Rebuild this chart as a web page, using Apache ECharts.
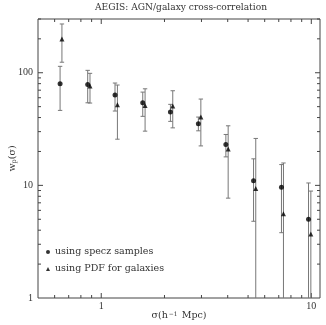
<!DOCTYPE html>
<html>
<head>
<meta charset="utf-8">
<script src="https://cdn.jsdelivr.net/npm/echarts@6/dist/echarts.min.js"></script>
<style>
html, body { margin: 0; padding: 0; background: #fff; }
#main { width: 326px; height: 325px; }
</style>
</head>
<body>
<div id="main"></div>
<script>
/*specz samples (circles)*/
var specX = [0.637, 0.862, 1.163, 1.576, 2.135, 2.90, 3.92, 5.31, 7.21, 9.70];
var specW = [79.8, 78.5, 63.4, 54.1, 44.8, 35.2, 23.1, 11.0, 9.6, 5.0];
var specLo = [46.3, 54.1, 45.7, 41.0, 37.0, 30.5, 17.9, 4.8, 3.8, 0];
var specHi = [114, 105, 81, 67.3, 52.4, 40.4, 28.3, 17.2, 15.3, 10.5];

/*PDF for galaxies (triangles)  -- lo 0 = bar runs off the bottom of the plot*/
var pdfX = [0.65, 0.884, 1.194, 1.617, 2.19, 2.98, 4.02, 5.44, 7.37, 9.95];
var pdfW = [199.5, 76.2, 52, 51.3, 50.6, 40.4, 21.0, 9.4, 5.6, 3.7];
var pdfLo = [124, 53.8, 25.7, 30.3, 32.4, 22.4, 7.7, 0, 0, 0];
var pdfHi = [271, 98.8, 77.8, 72, 69.2, 58.4, 33.8, 26.1, 15.8, 8.9];

/*axis ticks and labels*/
var xTicks = [0.6, 0.7, 0.8, 0.9, 1, 2, 3, 4, 5, 6, 7, 8, 9, 10];
var yTicks = [2, 3, 4, 5, 6, 7, 8, 9, 10, 20, 30, 40, 50, 60, 70, 80, 90, 100, 200, 300];
var xLabels = [1, 10];
var yLabels = [1, 10, 100];

var FONT = '"Liberation Serif", "DejaVu Serif", serif';
var WIDE = '"DejaVu Serif", serif';
var LINE = '#444';
var BAR = '#777';

function pickLabel(list){
	return function(v){
		for (var i = 0; i < list.length; i++) {
			if (Math.abs(v - list[i]) / list[i] < 1e-6) return String(list[i]);
		}
		return '';
	};
}

function isMajor(v){
	var l = Math.log(v) / Math.LN10;
	return Math.abs(l - Math.round(l)) < 1e-6;
}

/*error bars*/
function errData(xs, ys, lo, hi){
	var out = [];
	for (var i = 0; i < xs.length; i++) out.push([xs[i], ys[i], lo[i], hi[i]]);
	return out;
}

function renderErr(params, api){
	var cs = params.coordSys;
	var x = api.coord([api.value(0), api.value(1)])[0];
	var lo = api.value(2), hi = api.value(3);
	var yTop = api.coord([api.value(0), hi])[1];
	var yBot = lo > 0 ? api.coord([api.value(0), lo])[1] : cs.y + cs.height;
	var cap = 2.2;
	var st = { stroke: BAR, lineWidth: 1 };
	var kids = [
		{ type: 'line', shape: { x1: x, y1: yTop, x2: x, y2: yBot }, style: st },
		{ type: 'line', shape: { x1: x - cap, y1: yTop, x2: x + cap, y2: yTop }, style: st }
	];
	if (lo > 0) kids.push({ type: 'line', shape: { x1: x - cap, y1: yBot, x2: x + cap, y2: yBot }, style: st });
	return { type: 'group', children: kids };
}

/*ticks on all four sides, pointing in*/
function renderXTick(params, api){
	var cs = params.coordSys;
	var v = api.value(0);
	var x = api.coord([v, 1])[0];
	var len = isMajor(v) ? 5 : 3;
	var st = { stroke: LINE, lineWidth: 1 };
	return { type: 'group', children: [
		{ type: 'line', shape: { x1: x, y1: cs.y + cs.height, x2: x, y2: cs.y + cs.height - len }, style: st },
		{ type: 'line', shape: { x1: x, y1: cs.y, x2: x, y2: cs.y + len }, style: st }
	]};
}

function renderYTick(params, api){
	var cs = params.coordSys;
	var v = api.value(1);
	var y = api.coord([1, v])[1];
	var len = isMajor(v) ? 5 : 3;
	var st = { stroke: LINE, lineWidth: 1 };
	return { type: 'group', children: [
		{ type: 'line', shape: { x1: cs.x, y1: y, x2: cs.x + len, y2: y }, style: st },
		{ type: 'line', shape: { x1: cs.x + cs.width, y1: y, x2: cs.x + cs.width - len, y2: y }, style: st }
	]};
}

var option = {
	animation: false,
	backgroundColor: '#fff',
	textStyle: { fontFamily: FONT },
	title: {
		text: 'AEGIS: AGN/galaxy cross-correlation',
		left: 95,
		top: 3,
		padding: 0,
		textStyle: { fontFamily: WIDE, fontSize: 9.1, fontWeight: 'normal', color: '#333' }
	},
	legend: {
		data: [
			{ name: 'using specz samples', icon: 'circle' },
			{ name: 'using PDF for galaxies', icon: 'triangle' }
		],
		orient: 'vertical',
		left: 46,
		top: 246,
		padding: 0,
		itemWidth: 4,
		itemHeight: 4,
		itemGap: 5,
		itemTextGap: 0,
		textStyle: { fontFamily: WIDE, fontSize: 9.5, color: '#333', lineHeight: 12 }
	},
	grid: {
		left: 38, right: 6, top: 19, bottom: 27,
		outerBoundsMode: 'none',
		containLabel: false,
		show: true, borderColor: LINE, borderWidth: 1
	},
	xAxis: {
		type: 'log', logBase: 10, min: 0.5, max: 11,
		name: '{n|σ(h}{s|−1}{n| Mpc)}',
		nameLocation: 'middle', nameGap: 13, nameMoveOverlap: false,
		nameTextStyle: {
			rich: {
				n: { fontFamily: WIDE, fontSize: 9.5, color: '#333' },
				s: { fontFamily: WIDE, fontSize: 6, color: '#333', verticalAlign: 'top', padding: [0, 1, 4, 1] }
			}
		},
		axisLine: { show: false },
		axisTick: { show: false },
		splitLine: { show: false },
		axisLabel: { formatter: pickLabel(xLabels), margin: 3, fontFamily: FONT, fontSize: 10, color: '#333' }
	},
	yAxis: {
		type: 'log', logBase: 10, min: 1, max: 300,
		name: '{n|w}{s|p}{n|(σ)}',
		nameLocation: 'middle', nameGap: 20, nameRotate: 90, nameMoveOverlap: false,
		nameTextStyle: {
			rich: {
				n: { fontFamily: WIDE, fontSize: 9.5, color: '#333' },
				s: { fontFamily: WIDE, fontSize: 6.5, color: '#333', verticalAlign: 'bottom', padding: [4, 0, 0, 0] }
			}
		},
		axisLine: { show: false },
		axisTick: { show: false },
		splitLine: { show: false },
		axisLabel: { formatter: pickLabel(yLabels), margin: 5, fontFamily: FONT, fontSize: 10, color: '#333' }
	},
	series: [
		{
			type: 'custom', name: 'ticksX', silent: true, clip: false,
			renderItem: renderXTick,
			data: xTicks.map(function(v){ return [v, 1]; })
		},
		{
			type: 'custom', name: 'ticksY', silent: true, clip: false,
			renderItem: renderYTick,
			data: yTicks.map(function(v){ return [1, v]; })
		},
		{
			type: 'custom', name: 'errSpec', silent: true, clip: true,
			renderItem: renderErr,
			encode: { x: 0, y: 1 },
			data: errData(specX, specW, specLo, specHi)
		},
		{
			type: 'custom', name: 'errPdf', silent: true, clip: true,
			renderItem: renderErr,
			encode: { x: 0, y: 1 },
			data: errData(pdfX, pdfW, pdfLo, pdfHi)
		},
		{
			type: 'scatter', name: 'using specz samples',
			symbol: 'circle', symbolSize: 5,
			itemStyle: { color: '#000' },
			data: specX.map(function(x, i){ return [x, specW[i]]; })
		},
		{
			type: 'scatter', name: 'using PDF for galaxies',
			symbol: 'triangle', symbolSize: 5,
			itemStyle: { color: '#000' },
			data: pdfX.map(function(x, i){ return [x, pdfW[i]]; })
		}
	]
};

var myChart = echarts.init(document.getElementById('main'));
myChart.setOption(option);
</script>
</body>
</html>
